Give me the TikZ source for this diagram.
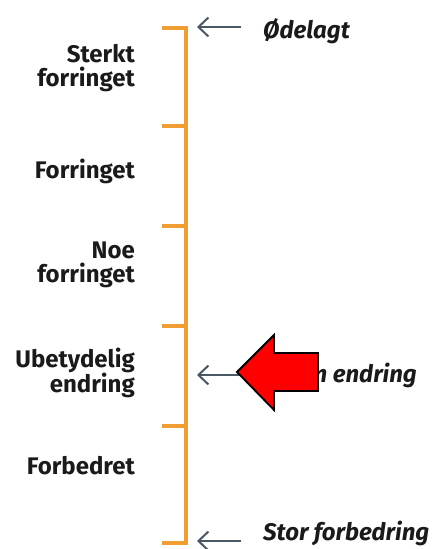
\documentclass[tikz,border=0pt]{standalone}
\usepackage{fontspec}
\setmainfont{Fira Sans}
\usetikzlibrary{arrows.meta}
\definecolor{scale line}{RGB}{240,158,52}
\definecolor{pointer ink}{RGB}{74,88,100}
\definecolor{label ink}{RGB}{26,26,26}
\def\redarrow{(237,372) -- (274,335) -- (274,353) -- (318,353) -- (318,391) -- (274,391) -- (274,410) -- cycle}
\tikzset{scalebar/.style={draw=scale line, line width=3.4pt},
    level/.style={align=right, anchor=east, text=label ink, inner sep=0pt, font=\fontsize{24}{24}\selectfont\bfseries},
    mark label/.style={text=label ink, inner sep=0pt, font=\fontsize{24}{24}\selectfont\bfseries\itshape},
    pointer/.style={draw=pointer ink, line width=2pt, -{Straight Barb[length=10pt,width=19pt]}}}

\begin{document}
\begin{tikzpicture}[x=1pt, y=-1pt]
     \useasboundingbox (0,0) rectangle (434,549);
     % scale with ticks
     \draw[scalebar] (162,28) -- (186,28) -- (186,543) -- (162,543);
     \foreach \y in {126,226,326,426}
         \draw[scalebar] (162,\y) -- (186,\y);
     % levels
     \node[level] (sterkt) at (135,68) {Sterkt\\forringet};
     \node[level] (forringet) at (135,171) {Forringet};
     \node[level] (noe) at (135,265) {Noe\\forringet};
     \node[level] (ubetydelig) at (135,373) {Ubetydelig\\endring};
     \node[level] (forbedret) at (135,466) {Forbedret};
     % marks on the right
     \node[mark label, anchor=base west] (odelagt) at (263,38) {Ødelagt};
     \node[mark label, anchor=base east] (ingen) at (417,382) {Ingen endring};
     \node[mark label, anchor=base west] (stor) at (263,540) {Stor forbedring};
     \coordinate (top) at (197,27);
     \coordinate (mid) at (197,375);
     \coordinate (bot) at (197,541);
     \draw[pointer] (241,27) -- (top);
     \draw[pointer] (241,375) -- (mid);
     \draw[pointer] (241,541) -- (bot);
     \filldraw[fill=red, draw=black, line width=1.8pt, line join=miter] \redarrow;
 \end{tikzpicture}
\end{document}
